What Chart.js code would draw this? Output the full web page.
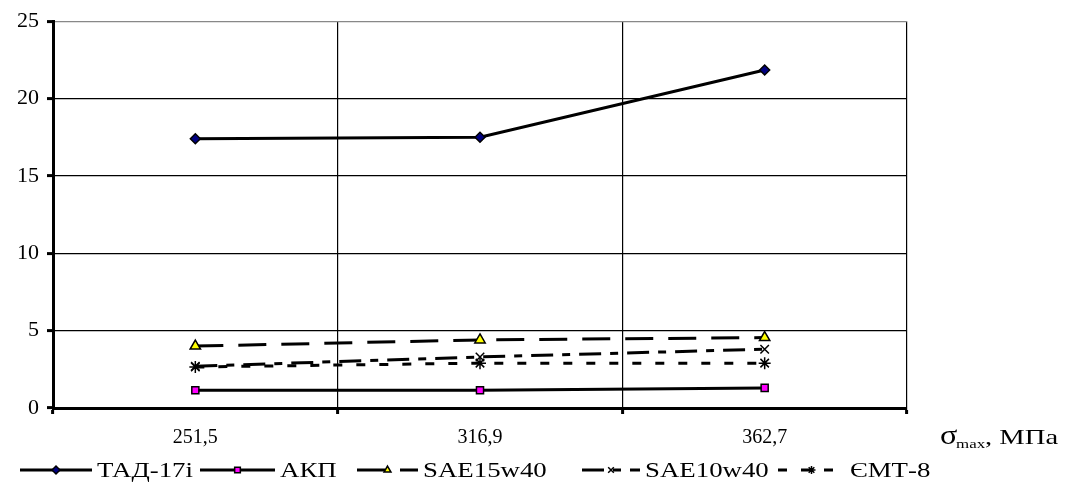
<!DOCTYPE html>
<html>
<head>
<meta charset="utf-8">
<script src="https://cdn.jsdelivr.net/npm/chart.js@4/dist/chart.umd.min.js"></script>
<style>
  body { margin: 0; background: #fff; }
  #wrap { width: 1072px; height: 491px; }
</style>
</head>
<body>
<div id="wrap"><canvas id="myChart" width="1072" height="491"></canvas></div>
<script>
// data
var categories = ['251,5', '316,9', '362,7'];
var tad17i   = [17.4, 17.5, 21.85];
var akp      = [1.15, 1.15, 1.3];
var sae15w40 = [4.0, 4.4, 4.55];
var sae10w40 = [2.7, 3.3, 3.8];
var emt8     = [2.65, 2.9, 2.9];
var seriesNames = ['ТАД-17і', 'АКП', 'SAE15w40', 'SAE10w40', 'ЄМТ-8'];
var yTicks = [0, 5, 10, 15, 20, 25];

var serif = '"Liberation Serif", "DejaVu Serif", serif';

// text in the original is a bit wider than the font, stretch it sideways
function wideText(c, txt, x, y, size, sx) {
    c.save();
    c.font = size + 'px ' + serif;
    c.translate(x, y);
    c.scale(sx, 1);
    c.fillText(txt, 0, 0);
    c.restore();
}

// legend drawn like the excel one: line sample with the marker in the middle
var legendX0 = [20, 200, 357, 582, 778];
var legendX1 = [92, 275, 418, 640, 845];
var bottomLegend = {
    id: 'bottomLegend',
    afterDraw: function (chart) {
        var c = chart.ctx;
        var y = 470;
        c.save();
        chart.data.datasets.forEach(function (ds, i) {
            var x0 = legendX0[i], x1 = legendX1[i];
            c.beginPath();
            c.setLineDash(ds.borderDash || []);
            c.lineWidth = 3;
            c.strokeStyle = '#000';
            c.moveTo(x0, y);
            c.lineTo(x1, y);
            c.stroke();
            c.setLineDash([]);
            c.fillStyle = ds.pointBackgroundColor;
            c.strokeStyle = '#000';
            c.lineWidth = 1.5;
            Chart.helpers.drawPoint(c, {
                pointStyle: ds.pointStyle,
                radius: 4,
                borderWidth: 1.5
            }, (x0 + x1) / 2, y);
            c.fillStyle = '#000';
            c.textBaseline = 'middle';
            c.textAlign = 'left';
            wideText(c, ds.label, x1 + 5, y + 1, 22, 1.22);
        });

        // axis title at the right of the plot
        c.fillStyle = '#000';
        c.textBaseline = 'alphabetic';
        c.textAlign = 'left';
        wideText(c, 'σ', 940, 444, 28, 1.15);
        wideText(c, 'max', 956, 448, 13, 1.3);
        wideText(c, ', МПа', 985, 444, 22, 1.3);
        c.restore();
    }
};

function ds(label, values, style, fill, dash, r) {
    return {
        label: label,
        data: values,
        borderColor: '#000',
        borderWidth: 3,
        borderDash: dash,
        pointStyle: style,
        pointRadius: r,
        pointHoverRadius: r,
        pointBackgroundColor: fill,
        pointBorderColor: '#000',
        pointBorderWidth: 1.5,
        tension: 0,
        fill: false
    };
}

var ctx = document.getElementById('myChart').getContext('2d');
var chart = new Chart(ctx, {
    type: 'line',
    data: {
        labels: categories,
        datasets: [
            ds(seriesNames[0], tad17i, 'rectRot', '#000080', [], 5),
            ds(seriesNames[1], akp, 'rect', '#ff00ff', [], 5),
            ds(seriesNames[2], sae15w40, 'triangle', '#ffff00', [28, 15], 6),
            ds(seriesNames[3], sae10w40, 'crossRot', '#000', [22, 9, 8, 9], 6),
            ds(seriesNames[4], emt8, 'star', '#000', [9, 14], 6)
        ]
    },
    options: {
        responsive: false,
        animation: false,
        devicePixelRatio: 1,
        layout: { padding: { left: 0, right: 165, top: 20, bottom: 0 } },
        plugins: {
            legend: { display: false },
            tooltip: { enabled: false }
        },
        scales: {
            x: {
                offset: true,
                afterFit: function (s) { s.height = 83; },
                grid: {
                    offset: true,
                    color: function (c) { return c.index === 3 ? '#888' : '#000'; },
                    lineWidth: 1.2,
                    tickLength: 6,
                    tickColor: '#000',
                    tickWidth: 3
                },
                border: { color: '#000', width: 3 },
                ticks: { color: '#000', font: { family: serif, size: 20 }, padding: 12 }
            },
            y: {
                min: 0,
                max: 25,
                afterFit: function (s) { s.width = 53; },
                afterBuildTicks: function (s) {
                    s.ticks = yTicks.map(function (v) { return { value: v }; });
                },
                grid: {
                    color: function (c) { return c.tick && c.tick.value === 25 ? '#888' : '#000'; },
                    lineWidth: 1.2,
                    tickLength: 6,
                    tickColor: '#000',
                    tickWidth: 3
                },
                border: { color: '#000', width: 3 },
                ticks: { color: '#000', font: { family: serif, size: 22 }, padding: 8 }
            }
        }
    },
    plugins: [bottomLegend]
});
</script>
</body>
</html>
